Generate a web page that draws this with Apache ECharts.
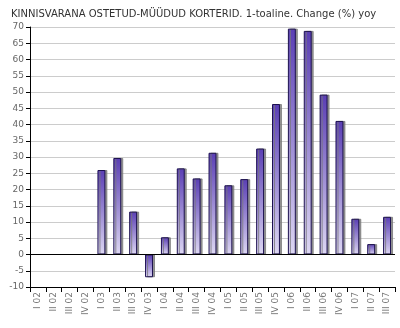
<!DOCTYPE html>
<html>
<head>
<meta charset="utf-8">
<script src="https://cdn.jsdelivr.net/npm/echarts@6/dist/echarts.min.js"></script>
<style>html,body{margin:0;padding:0;background:#fff;}#c{width:400px;height:328px;}</style>
</head>
<body>
<div id="c"></div>
<script>
var titleText = 'KINNISVARANA OSTETUD-MÜÜDUD KORTERID. 1-toaline. Change (%) yoy';
var categories = ['I 02','II 02','III 02','IV 02','I 03','II 03','III 03','IV 03','I 04','II 04','III 04','IV 04','I 05','II 05','III 05','IV 05','I 06','II 06','III 06','IV 06','I 07','II 07','III 07'];
var values = [null,null,null,null,26,29.7,13.2,-7,5.3,26.5,23.4,31.3,21.3,23.2,32.6,46.3,69.5,68.8,49.2,41.1,11,3.2,11.6];
var yMin = -10, yMax = 70, yStep = 5;

var chart = echarts.init(document.getElementById('c'), null, {renderer:'canvas'});
chart.setOption({
  animation:false,
  backgroundColor:'#fff',
  title:{text:titleText,left:6,top:4,textStyle:{fontFamily:'DejaVu Sans',fontSize:10,fontWeight:'normal',color:'#333'}},
  grid:{left:30,right:5,top:27,bottom:41,containLabel:false},
  xAxis:{type:'category',data:categories,boundaryGap:true,
    axisLine:{onZero:false,lineStyle:{color:'#000',width:1}},
    axisTick:{show:true,alignWithLabel:false,inside:false,length:5,lineStyle:{color:'#000'}},
    axisLabel:{rotate:90,interval:0,fontFamily:'DejaVu Sans',fontSize:9,color:'#777',margin:5},
    splitLine:{show:false}},
  yAxis:{type:'value',min:yMin,max:yMax,interval:yStep,
    axisLine:{show:true,lineStyle:{color:'#000',width:1}},
    axisTick:{show:true,length:4,lineStyle:{color:'#000'}},
    axisLabel:{fontFamily:'DejaVu Sans',fontSize:9,color:'#666',margin:6},
    splitLine:{show:true,lineStyle:{color:'#cccccc',width:1}}},
  series:[{type:'bar',data:values,barWidth:'50%',
    itemStyle:{
      color:new echarts.graphic.LinearGradient(0,0,0,1,[{offset:0,color:'#5a3eb4'},{offset:1,color:'#ddd7f3'}]),
      borderColor:'#1c1050',borderWidth:1,
      shadowColor:'rgba(120,120,120,0.8)',shadowOffsetX:2,shadowOffsetY:0,shadowBlur:0},
    markLine:{silent:true,symbol:'none',label:{show:false},lineStyle:{color:'#000',width:1,type:'solid'},data:[{yAxis:0}]}
  }]
});
</script>
</body>
</html>
